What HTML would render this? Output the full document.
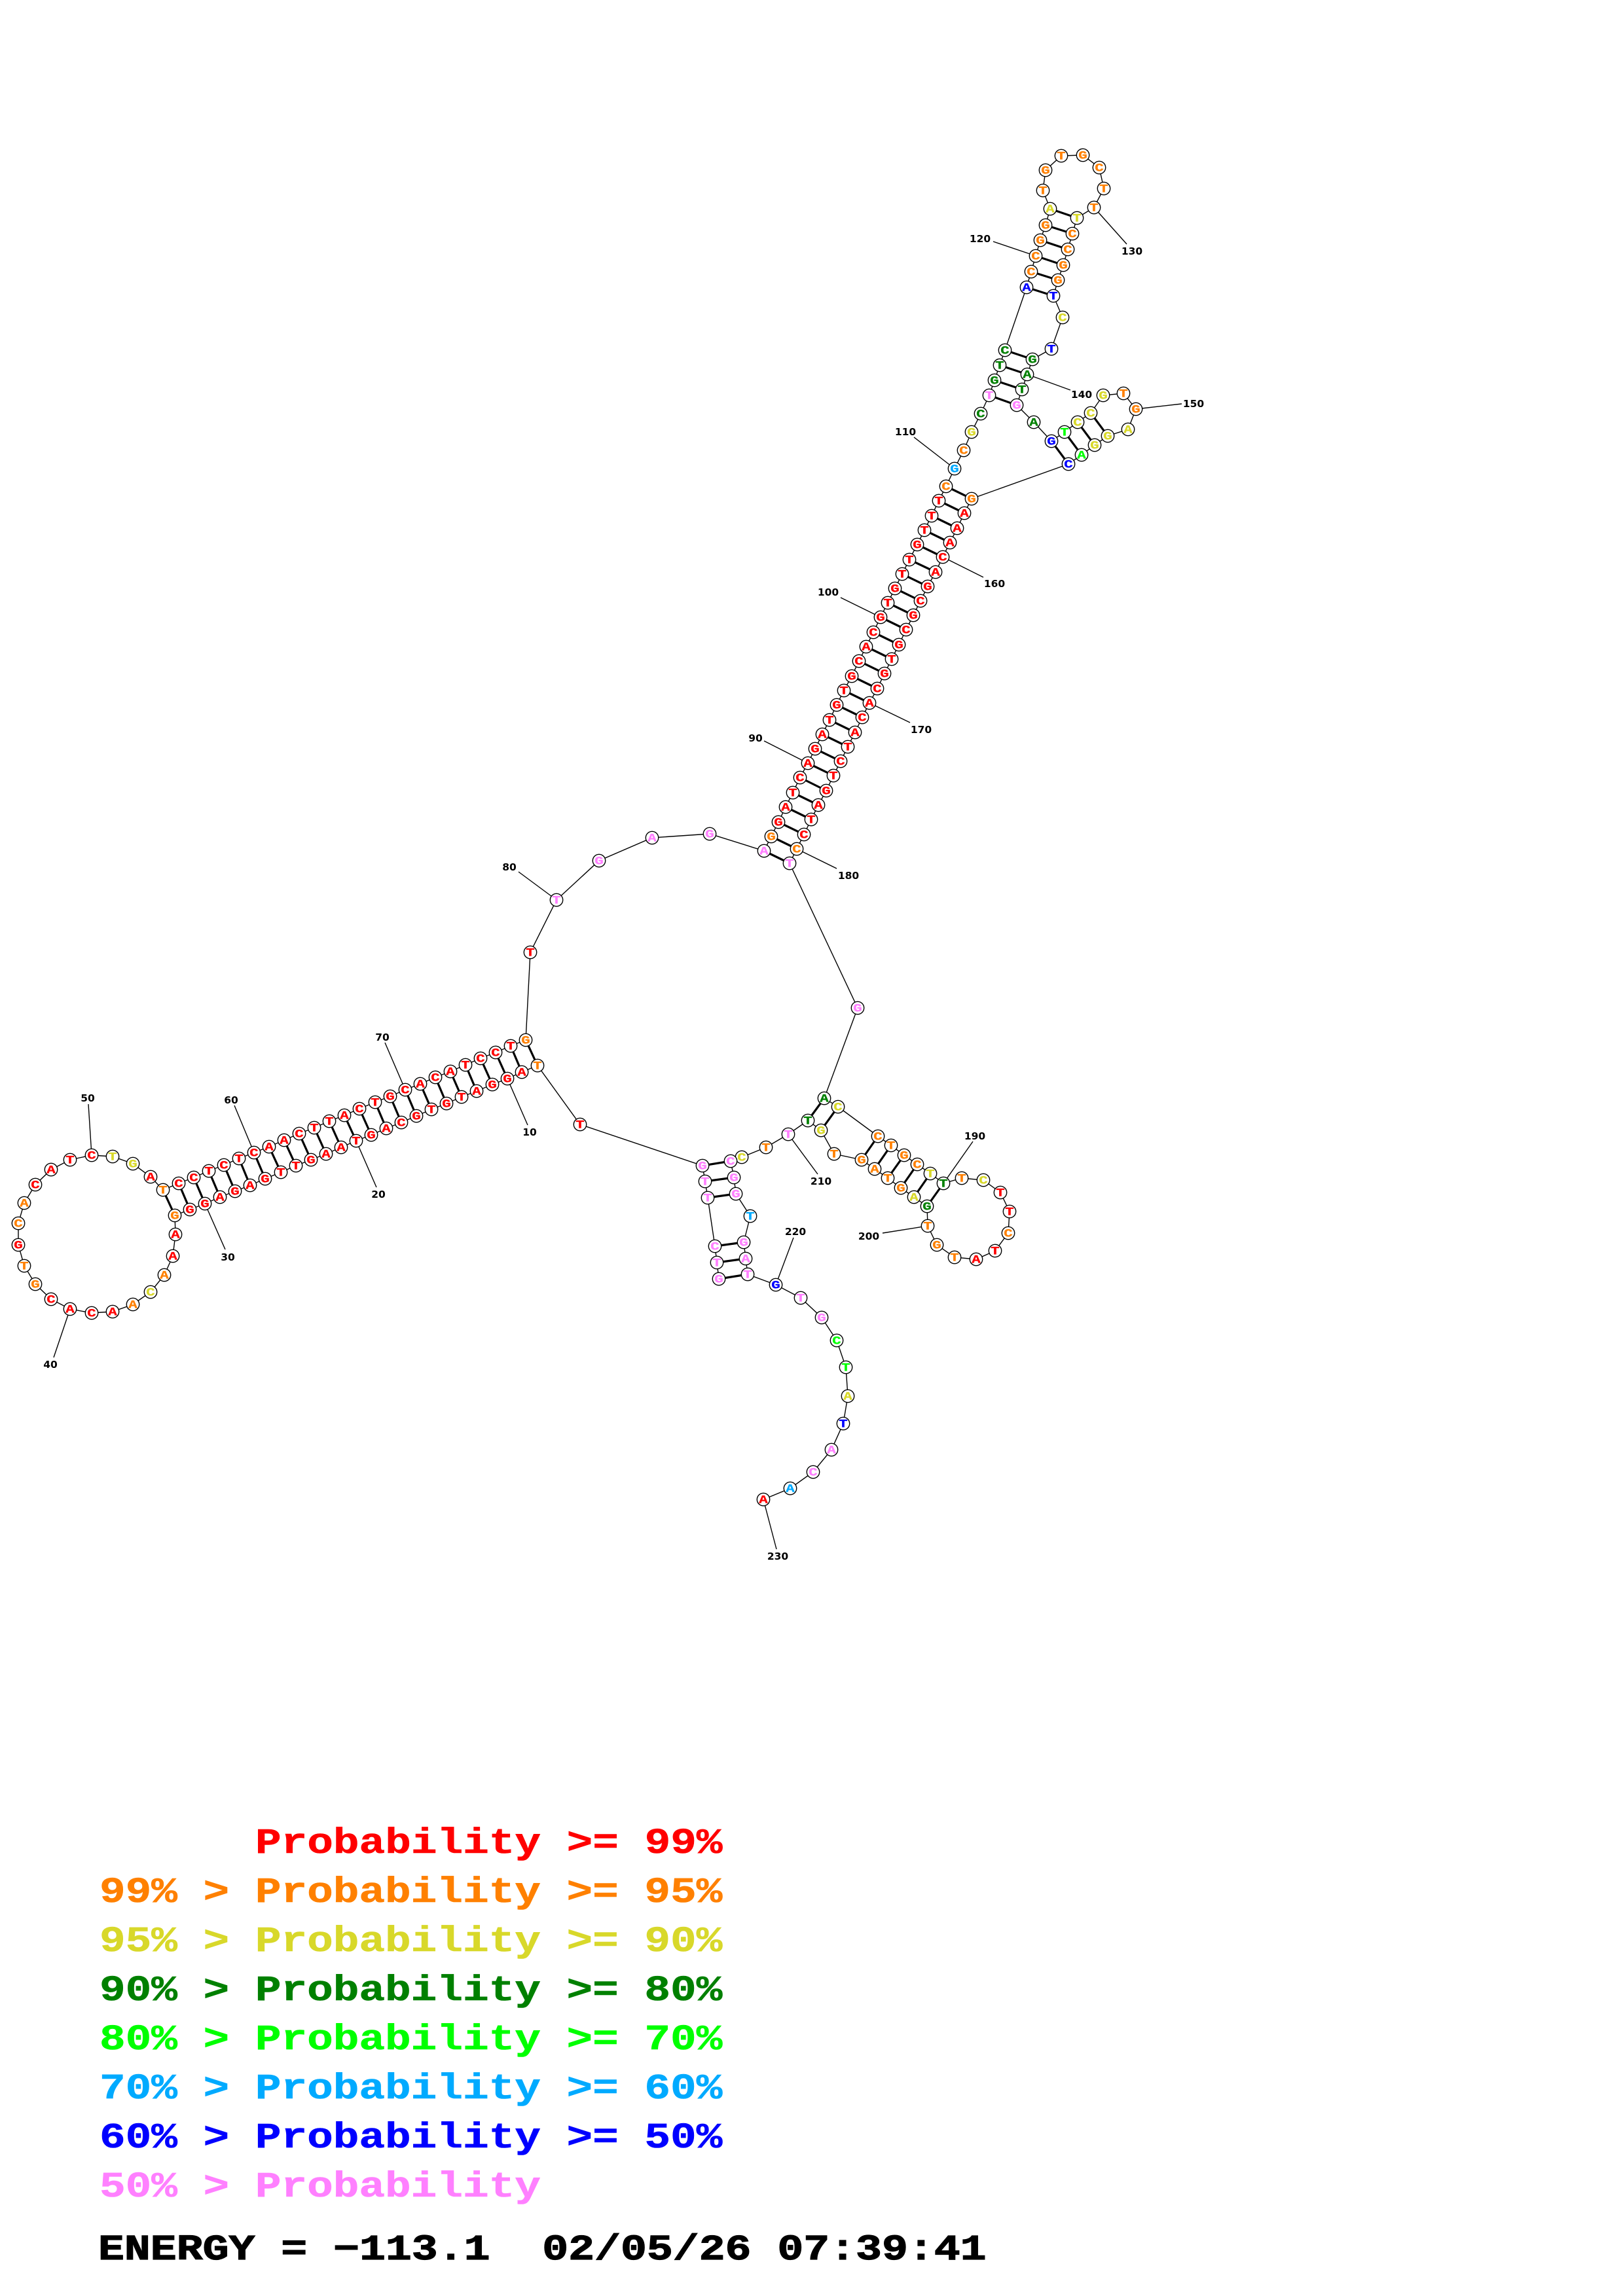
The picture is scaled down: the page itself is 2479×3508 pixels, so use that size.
<!DOCTYPE html>
<html><head><meta charset="utf-8"><style>
html,body{margin:0;padding:0;background:#fff}
svg{display:block}
.n circle{fill:#fff;stroke:#000;stroke-width:1.4}
.n text{font:bold 17.5px "Liberation Mono",monospace;text-anchor:middle;stroke-width:.3;transform:translate(0,5.7px) scale(1.28,1)}
.r{fill:#f00;stroke:#f00}.o{fill:#ff8000;stroke:#ff8000}.y{fill:#d8d82a;stroke:#d8d82a}.d{fill:#008000;stroke:#008000}.g{fill:#0f0;stroke:#0f0}.s{fill:#00aaff;stroke:#00aaff}.b{fill:#00f;stroke:#00f}.p{fill:#ff80ff;stroke:#ff80ff}
.l text{font:bold 54.6px "Liberation Mono",monospace;stroke-width:.6}
.t{font:bold 15.5px "DejaVu Sans",sans-serif;text-anchor:middle;fill:#000}
</style></head><body>
<svg xmlns="http://www.w3.org/2000/svg" width="2479" height="3508" viewBox="0 0 2479 3508">
<rect width="2479" height="3508" fill="#fff"/>
<polyline fill="none" stroke="#000" stroke-width="1.4" points="1098,1954 1095,1929 1092,1904 1081,1830 1077,1805 1073,1781 886,1718 821,1628 797,1638 775,1648 752,1657 728,1667 705,1676 682,1686 659,1695 636,1705 613,1715 590,1724 567,1734 544,1743 521,1753 498,1763 475,1772 452,1781 429,1791 405,1801 382,1811 359,1820 336,1829 313,1839 290,1848 267,1857 268,1886 264,1919 251,1948 230,1974 203,1993 172,2004 140,2006 107,2000 78,1985 54,1962 37,1934 28,1902 28,1869 37,1838 54,1810 78,1787 107,1772 140,1765 172,1767 203,1778 230,1798 249,1818 273,1808 296,1799 319,1789 342,1780 365,1770 388,1761 411,1752 434,1742 457,1732 480,1723 503,1713 526,1704 549,1694 573,1684 596,1675 619,1665 642,1656 665,1646 688,1637 711,1627 734,1617 757,1608 780,1598 803,1589 810,1455 850,1375 915,1315 996,1280 1084,1274 1167,1300 1178,1278 1189,1256 1200,1233 1211,1211 1222,1188 1234,1166 1245,1144 1256,1122 1267,1100 1278,1077 1289,1055 1301,1033 1312,1010 1323,988 1334,966 1345,943 1356,921 1367,899 1378,877 1389,855 1401,832 1412,810 1423,788 1434,765 1445,743 1458,716 1472,688 1484,660 1498,632 1511,604 1519,581 1527,558 1535,535 1568,439 1575,415 1582,391 1589,367 1597,344 1604,319 1593,291 1597,260 1621,238 1654,237 1679,256 1686,288 1671,317 1645,333 1638,357 1631,381 1624,405 1616,428 1609,452 1623,485 1606,533 1577,549 1569,572 1561,595 1553,619 1579,645 1606,674 1626,660 1646,645 1666,631 1685,604 1716,601 1735,625 1723,656 1692,666 1672,680 1652,695 1632,709 1484,762 1473,784 1462,807 1451,829 1440,851 1429,874 1417,896 1406,918 1395,940 1384,962 1373,985 1362,1007 1351,1029 1340,1052 1328,1074 1317,1096 1306,1119 1295,1141 1284,1163 1273,1185 1262,1208 1250,1230 1239,1252 1228,1275 1217,1297 1206,1319 1310,1540 1259,1678 1280,1691 1341,1736 1361,1750 1381,1765 1401,1779 1421,1793 1441,1808 1469,1800 1502,1803 1528,1822 1542,1851 1540,1884 1520,1911 1491,1924 1458,1921 1431,1902 1417,1873 1416,1843 1396,1829 1376,1815 1356,1800 1336,1786 1316,1772 1274,1763 1254,1727 1234,1712 1204,1733 1170,1753 1133,1768 1116,1774 1121,1799 1124,1824 1146,1858 1136,1898 1139,1923 1142,1947 1185,1963 1223,1983 1255,2013 1278,2048 1292,2089 1295,2133 1288,2175 1270,2215 1242,2249 1207,2274 1166,2291"/>
<path fill="none" stroke="#000" stroke-width="3.2" d="M1098 1954L1142 1947M1095 1929L1139 1923M1092 1904L1136 1898M1081 1830L1124 1824M1077 1805L1121 1799M1073 1781L1116 1774M821 1628L803 1589M797 1638L780 1598M775 1648L757 1608M752 1657L734 1617M728 1667L711 1627M705 1676L688 1637M682 1686L665 1646M659 1695L642 1656M636 1705L619 1665M613 1715L596 1675M590 1724L573 1684M567 1734L549 1694M544 1743L526 1704M521 1753L503 1713M498 1763L480 1723M475 1772L457 1732M452 1781L434 1742M429 1791L411 1752M405 1801L388 1761M382 1811L365 1770M359 1820L342 1780M336 1829L319 1789M313 1839L296 1799M290 1848L273 1808M267 1857L249 1818M1167 1300L1206 1319M1178 1278L1217 1297M1189 1256L1228 1275M1200 1233L1239 1252M1211 1211L1250 1230M1222 1188L1262 1208M1234 1166L1273 1185M1245 1144L1284 1163M1256 1122L1295 1141M1267 1100L1306 1119M1278 1077L1317 1096M1289 1055L1328 1074M1301 1033L1340 1052M1312 1010L1351 1029M1323 988L1362 1007M1334 966L1373 985M1345 943L1384 962M1356 921L1395 940M1367 899L1406 918M1378 877L1417 896M1389 855L1429 874M1401 832L1440 851M1412 810L1451 829M1423 788L1462 807M1434 765L1473 784M1445 743L1484 762M1511 604L1553 619M1519 581L1561 595M1527 558L1569 572M1535 535L1577 549M1568 439L1609 452M1575 415L1616 428M1582 391L1624 405M1589 367L1631 381M1597 344L1638 357M1604 319L1645 333M1606 674L1632 709M1626 660L1652 695M1646 645L1672 680M1666 631L1692 666M1259 1678L1234 1712M1280 1691L1254 1727M1341 1736L1316 1772M1361 1750L1336 1786M1381 1765L1356 1800M1401 1779L1376 1815M1421 1793L1396 1829M1441 1808L1416 1843"/>
<path fill="none" stroke="#000" stroke-width="1.4" d="M775 1648L806 1719M544 1743L575 1814M313 1839L344 1909M107 2000L82 2074M140 1765L135 1687M388 1761L358 1689M619 1665L588 1593M850 1375L792 1332M1234 1166L1167 1132M1345 943L1284 913M1458 716L1396 668M1582 391L1517 369M1671 317L1721 373M1569 572L1635 596M1735 625L1805 617M1440 851L1502 882M1328 1074L1390 1104M1217 1297L1278 1327M1441 1808L1486 1744M1417 1873L1348 1884M1204 1733L1249 1794M1185 1963L1212 1891M1166 2291L1186 2367"/>
<g class="n">
<g class="p" transform="translate(1098 1954)"><circle r="9.7"/><text>G</text></g>
<g class="p" transform="translate(1095 1929)"><circle r="9.7"/><text>T</text></g>
<g class="p" transform="translate(1092 1904)"><circle r="9.7"/><text>C</text></g>
<g class="p" transform="translate(1081 1830)"><circle r="9.7"/><text>T</text></g>
<g class="p" transform="translate(1077 1805)"><circle r="9.7"/><text>T</text></g>
<g class="p" transform="translate(1073 1781)"><circle r="9.7"/><text>G</text></g>
<g class="r" transform="translate(886 1718)"><circle r="9.7"/><text>T</text></g>
<g class="o" transform="translate(821 1628)"><circle r="9.7"/><text>T</text></g>
<g class="r" transform="translate(797 1638)"><circle r="9.7"/><text>A</text></g>
<g class="r" transform="translate(775 1648)"><circle r="9.7"/><text>G</text></g>
<g class="r" transform="translate(752 1657)"><circle r="9.7"/><text>G</text></g>
<g class="r" transform="translate(728 1667)"><circle r="9.7"/><text>A</text></g>
<g class="r" transform="translate(705 1676)"><circle r="9.7"/><text>T</text></g>
<g class="r" transform="translate(682 1686)"><circle r="9.7"/><text>G</text></g>
<g class="r" transform="translate(659 1695)"><circle r="9.7"/><text>T</text></g>
<g class="r" transform="translate(636 1705)"><circle r="9.7"/><text>G</text></g>
<g class="r" transform="translate(613 1715)"><circle r="9.7"/><text>C</text></g>
<g class="r" transform="translate(590 1724)"><circle r="9.7"/><text>A</text></g>
<g class="r" transform="translate(567 1734)"><circle r="9.7"/><text>G</text></g>
<g class="r" transform="translate(544 1743)"><circle r="9.7"/><text>T</text></g>
<g class="r" transform="translate(521 1753)"><circle r="9.7"/><text>A</text></g>
<g class="r" transform="translate(498 1763)"><circle r="9.7"/><text>A</text></g>
<g class="r" transform="translate(475 1772)"><circle r="9.7"/><text>G</text></g>
<g class="r" transform="translate(452 1781)"><circle r="9.7"/><text>T</text></g>
<g class="r" transform="translate(429 1791)"><circle r="9.7"/><text>T</text></g>
<g class="r" transform="translate(405 1801)"><circle r="9.7"/><text>G</text></g>
<g class="r" transform="translate(382 1811)"><circle r="9.7"/><text>A</text></g>
<g class="r" transform="translate(359 1820)"><circle r="9.7"/><text>G</text></g>
<g class="r" transform="translate(336 1829)"><circle r="9.7"/><text>A</text></g>
<g class="r" transform="translate(313 1839)"><circle r="9.7"/><text>G</text></g>
<g class="r" transform="translate(290 1848)"><circle r="9.7"/><text>G</text></g>
<g class="o" transform="translate(267 1857)"><circle r="9.7"/><text>G</text></g>
<g class="r" transform="translate(268 1886)"><circle r="9.7"/><text>A</text></g>
<g class="r" transform="translate(264 1919)"><circle r="9.7"/><text>A</text></g>
<g class="o" transform="translate(251 1948)"><circle r="9.7"/><text>A</text></g>
<g class="y" transform="translate(230 1974)"><circle r="9.7"/><text>C</text></g>
<g class="o" transform="translate(203 1993)"><circle r="9.7"/><text>A</text></g>
<g class="r" transform="translate(172 2004)"><circle r="9.7"/><text>A</text></g>
<g class="r" transform="translate(140 2006)"><circle r="9.7"/><text>C</text></g>
<g class="r" transform="translate(107 2000)"><circle r="9.7"/><text>A</text></g>
<g class="r" transform="translate(78 1985)"><circle r="9.7"/><text>C</text></g>
<g class="o" transform="translate(54 1962)"><circle r="9.7"/><text>G</text></g>
<g class="o" transform="translate(37 1934)"><circle r="9.7"/><text>T</text></g>
<g class="r" transform="translate(28 1902)"><circle r="9.7"/><text>G</text></g>
<g class="o" transform="translate(28 1869)"><circle r="9.7"/><text>C</text></g>
<g class="o" transform="translate(37 1838)"><circle r="9.7"/><text>A</text></g>
<g class="r" transform="translate(54 1810)"><circle r="9.7"/><text>C</text></g>
<g class="r" transform="translate(78 1787)"><circle r="9.7"/><text>A</text></g>
<g class="r" transform="translate(107 1772)"><circle r="9.7"/><text>T</text></g>
<g class="r" transform="translate(140 1765)"><circle r="9.7"/><text>C</text></g>
<g class="y" transform="translate(172 1767)"><circle r="9.7"/><text>T</text></g>
<g class="y" transform="translate(203 1778)"><circle r="9.7"/><text>G</text></g>
<g class="r" transform="translate(230 1798)"><circle r="9.7"/><text>A</text></g>
<g class="o" transform="translate(249 1818)"><circle r="9.7"/><text>T</text></g>
<g class="r" transform="translate(273 1808)"><circle r="9.7"/><text>C</text></g>
<g class="r" transform="translate(296 1799)"><circle r="9.7"/><text>C</text></g>
<g class="r" transform="translate(319 1789)"><circle r="9.7"/><text>T</text></g>
<g class="r" transform="translate(342 1780)"><circle r="9.7"/><text>C</text></g>
<g class="r" transform="translate(365 1770)"><circle r="9.7"/><text>T</text></g>
<g class="r" transform="translate(388 1761)"><circle r="9.7"/><text>C</text></g>
<g class="r" transform="translate(411 1752)"><circle r="9.7"/><text>A</text></g>
<g class="r" transform="translate(434 1742)"><circle r="9.7"/><text>A</text></g>
<g class="r" transform="translate(457 1732)"><circle r="9.7"/><text>C</text></g>
<g class="r" transform="translate(480 1723)"><circle r="9.7"/><text>T</text></g>
<g class="r" transform="translate(503 1713)"><circle r="9.7"/><text>T</text></g>
<g class="r" transform="translate(526 1704)"><circle r="9.7"/><text>A</text></g>
<g class="r" transform="translate(549 1694)"><circle r="9.7"/><text>C</text></g>
<g class="r" transform="translate(573 1684)"><circle r="9.7"/><text>T</text></g>
<g class="r" transform="translate(596 1675)"><circle r="9.7"/><text>G</text></g>
<g class="r" transform="translate(619 1665)"><circle r="9.7"/><text>C</text></g>
<g class="r" transform="translate(642 1656)"><circle r="9.7"/><text>A</text></g>
<g class="r" transform="translate(665 1646)"><circle r="9.7"/><text>C</text></g>
<g class="r" transform="translate(688 1637)"><circle r="9.7"/><text>A</text></g>
<g class="r" transform="translate(711 1627)"><circle r="9.7"/><text>T</text></g>
<g class="r" transform="translate(734 1617)"><circle r="9.7"/><text>C</text></g>
<g class="r" transform="translate(757 1608)"><circle r="9.7"/><text>C</text></g>
<g class="r" transform="translate(780 1598)"><circle r="9.7"/><text>T</text></g>
<g class="o" transform="translate(803 1589)"><circle r="9.7"/><text>G</text></g>
<g class="r" transform="translate(810 1455)"><circle r="9.7"/><text>T</text></g>
<g class="p" transform="translate(850 1375)"><circle r="9.7"/><text>T</text></g>
<g class="p" transform="translate(915 1315)"><circle r="9.7"/><text>G</text></g>
<g class="p" transform="translate(996 1280)"><circle r="9.7"/><text>A</text></g>
<g class="p" transform="translate(1084 1274)"><circle r="9.7"/><text>G</text></g>
<g class="p" transform="translate(1167 1300)"><circle r="9.7"/><text>A</text></g>
<g class="o" transform="translate(1178 1278)"><circle r="9.7"/><text>G</text></g>
<g class="r" transform="translate(1189 1256)"><circle r="9.7"/><text>G</text></g>
<g class="r" transform="translate(1200 1233)"><circle r="9.7"/><text>A</text></g>
<g class="r" transform="translate(1211 1211)"><circle r="9.7"/><text>T</text></g>
<g class="r" transform="translate(1222 1188)"><circle r="9.7"/><text>C</text></g>
<g class="r" transform="translate(1234 1166)"><circle r="9.7"/><text>A</text></g>
<g class="r" transform="translate(1245 1144)"><circle r="9.7"/><text>G</text></g>
<g class="r" transform="translate(1256 1122)"><circle r="9.7"/><text>A</text></g>
<g class="r" transform="translate(1267 1100)"><circle r="9.7"/><text>T</text></g>
<g class="r" transform="translate(1278 1077)"><circle r="9.7"/><text>G</text></g>
<g class="r" transform="translate(1289 1055)"><circle r="9.7"/><text>T</text></g>
<g class="r" transform="translate(1301 1033)"><circle r="9.7"/><text>G</text></g>
<g class="r" transform="translate(1312 1010)"><circle r="9.7"/><text>C</text></g>
<g class="r" transform="translate(1323 988)"><circle r="9.7"/><text>A</text></g>
<g class="r" transform="translate(1334 966)"><circle r="9.7"/><text>C</text></g>
<g class="r" transform="translate(1345 943)"><circle r="9.7"/><text>G</text></g>
<g class="r" transform="translate(1356 921)"><circle r="9.7"/><text>T</text></g>
<g class="r" transform="translate(1367 899)"><circle r="9.7"/><text>G</text></g>
<g class="r" transform="translate(1378 877)"><circle r="9.7"/><text>T</text></g>
<g class="r" transform="translate(1389 855)"><circle r="9.7"/><text>T</text></g>
<g class="r" transform="translate(1401 832)"><circle r="9.7"/><text>G</text></g>
<g class="r" transform="translate(1412 810)"><circle r="9.7"/><text>T</text></g>
<g class="r" transform="translate(1423 788)"><circle r="9.7"/><text>T</text></g>
<g class="r" transform="translate(1434 765)"><circle r="9.7"/><text>T</text></g>
<g class="o" transform="translate(1445 743)"><circle r="9.7"/><text>C</text></g>
<g class="s" transform="translate(1458 716)"><circle r="9.7"/><text>G</text></g>
<g class="o" transform="translate(1472 688)"><circle r="9.7"/><text>C</text></g>
<g class="y" transform="translate(1484 660)"><circle r="9.7"/><text>G</text></g>
<g class="d" transform="translate(1498 632)"><circle r="9.7"/><text>C</text></g>
<g class="p" transform="translate(1511 604)"><circle r="9.7"/><text>T</text></g>
<g class="d" transform="translate(1519 581)"><circle r="9.7"/><text>G</text></g>
<g class="d" transform="translate(1527 558)"><circle r="9.7"/><text>T</text></g>
<g class="d" transform="translate(1535 535)"><circle r="9.7"/><text>C</text></g>
<g class="b" transform="translate(1568 439)"><circle r="9.7"/><text>A</text></g>
<g class="o" transform="translate(1575 415)"><circle r="9.7"/><text>C</text></g>
<g class="o" transform="translate(1582 391)"><circle r="9.7"/><text>C</text></g>
<g class="o" transform="translate(1589 367)"><circle r="9.7"/><text>G</text></g>
<g class="o" transform="translate(1597 344)"><circle r="9.7"/><text>G</text></g>
<g class="y" transform="translate(1604 319)"><circle r="9.7"/><text>A</text></g>
<g class="o" transform="translate(1593 291)"><circle r="9.7"/><text>T</text></g>
<g class="o" transform="translate(1597 260)"><circle r="9.7"/><text>G</text></g>
<g class="o" transform="translate(1621 238)"><circle r="9.7"/><text>T</text></g>
<g class="o" transform="translate(1654 237)"><circle r="9.7"/><text>G</text></g>
<g class="o" transform="translate(1679 256)"><circle r="9.7"/><text>C</text></g>
<g class="o" transform="translate(1686 288)"><circle r="9.7"/><text>T</text></g>
<g class="o" transform="translate(1671 317)"><circle r="9.7"/><text>T</text></g>
<g class="y" transform="translate(1645 333)"><circle r="9.7"/><text>T</text></g>
<g class="o" transform="translate(1638 357)"><circle r="9.7"/><text>C</text></g>
<g class="o" transform="translate(1631 381)"><circle r="9.7"/><text>C</text></g>
<g class="o" transform="translate(1624 405)"><circle r="9.7"/><text>G</text></g>
<g class="o" transform="translate(1616 428)"><circle r="9.7"/><text>G</text></g>
<g class="b" transform="translate(1609 452)"><circle r="9.7"/><text>T</text></g>
<g class="y" transform="translate(1623 485)"><circle r="9.7"/><text>C</text></g>
<g class="b" transform="translate(1606 533)"><circle r="9.7"/><text>T</text></g>
<g class="d" transform="translate(1577 549)"><circle r="9.7"/><text>G</text></g>
<g class="d" transform="translate(1569 572)"><circle r="9.7"/><text>A</text></g>
<g class="d" transform="translate(1561 595)"><circle r="9.7"/><text>T</text></g>
<g class="p" transform="translate(1553 619)"><circle r="9.7"/><text>G</text></g>
<g class="d" transform="translate(1579 645)"><circle r="9.7"/><text>A</text></g>
<g class="b" transform="translate(1606 674)"><circle r="9.7"/><text>G</text></g>
<g class="g" transform="translate(1626 660)"><circle r="9.7"/><text>T</text></g>
<g class="y" transform="translate(1646 645)"><circle r="9.7"/><text>C</text></g>
<g class="y" transform="translate(1666 631)"><circle r="9.7"/><text>C</text></g>
<g class="y" transform="translate(1685 604)"><circle r="9.7"/><text>G</text></g>
<g class="o" transform="translate(1716 601)"><circle r="9.7"/><text>T</text></g>
<g class="o" transform="translate(1735 625)"><circle r="9.7"/><text>G</text></g>
<g class="y" transform="translate(1723 656)"><circle r="9.7"/><text>A</text></g>
<g class="y" transform="translate(1692 666)"><circle r="9.7"/><text>G</text></g>
<g class="y" transform="translate(1672 680)"><circle r="9.7"/><text>G</text></g>
<g class="g" transform="translate(1652 695)"><circle r="9.7"/><text>A</text></g>
<g class="b" transform="translate(1632 709)"><circle r="9.7"/><text>C</text></g>
<g class="o" transform="translate(1484 762)"><circle r="9.7"/><text>G</text></g>
<g class="r" transform="translate(1473 784)"><circle r="9.7"/><text>A</text></g>
<g class="r" transform="translate(1462 807)"><circle r="9.7"/><text>A</text></g>
<g class="r" transform="translate(1451 829)"><circle r="9.7"/><text>A</text></g>
<g class="r" transform="translate(1440 851)"><circle r="9.7"/><text>C</text></g>
<g class="r" transform="translate(1429 874)"><circle r="9.7"/><text>A</text></g>
<g class="r" transform="translate(1417 896)"><circle r="9.7"/><text>G</text></g>
<g class="r" transform="translate(1406 918)"><circle r="9.7"/><text>C</text></g>
<g class="r" transform="translate(1395 940)"><circle r="9.7"/><text>G</text></g>
<g class="r" transform="translate(1384 962)"><circle r="9.7"/><text>C</text></g>
<g class="r" transform="translate(1373 985)"><circle r="9.7"/><text>G</text></g>
<g class="r" transform="translate(1362 1007)"><circle r="9.7"/><text>T</text></g>
<g class="r" transform="translate(1351 1029)"><circle r="9.7"/><text>G</text></g>
<g class="r" transform="translate(1340 1052)"><circle r="9.7"/><text>C</text></g>
<g class="r" transform="translate(1328 1074)"><circle r="9.7"/><text>A</text></g>
<g class="r" transform="translate(1317 1096)"><circle r="9.7"/><text>C</text></g>
<g class="r" transform="translate(1306 1119)"><circle r="9.7"/><text>A</text></g>
<g class="r" transform="translate(1295 1141)"><circle r="9.7"/><text>T</text></g>
<g class="r" transform="translate(1284 1163)"><circle r="9.7"/><text>C</text></g>
<g class="r" transform="translate(1273 1185)"><circle r="9.7"/><text>T</text></g>
<g class="r" transform="translate(1262 1208)"><circle r="9.7"/><text>G</text></g>
<g class="r" transform="translate(1250 1230)"><circle r="9.7"/><text>A</text></g>
<g class="r" transform="translate(1239 1252)"><circle r="9.7"/><text>T</text></g>
<g class="r" transform="translate(1228 1275)"><circle r="9.7"/><text>C</text></g>
<g class="o" transform="translate(1217 1297)"><circle r="9.7"/><text>C</text></g>
<g class="p" transform="translate(1206 1319)"><circle r="9.7"/><text>T</text></g>
<g class="p" transform="translate(1310 1540)"><circle r="9.7"/><text>G</text></g>
<g class="d" transform="translate(1259 1678)"><circle r="9.7"/><text>A</text></g>
<g class="y" transform="translate(1280 1691)"><circle r="9.7"/><text>C</text></g>
<g class="o" transform="translate(1341 1736)"><circle r="9.7"/><text>C</text></g>
<g class="o" transform="translate(1361 1750)"><circle r="9.7"/><text>T</text></g>
<g class="o" transform="translate(1381 1765)"><circle r="9.7"/><text>G</text></g>
<g class="o" transform="translate(1401 1779)"><circle r="9.7"/><text>C</text></g>
<g class="y" transform="translate(1421 1793)"><circle r="9.7"/><text>T</text></g>
<g class="d" transform="translate(1441 1808)"><circle r="9.7"/><text>T</text></g>
<g class="o" transform="translate(1469 1800)"><circle r="9.7"/><text>T</text></g>
<g class="y" transform="translate(1502 1803)"><circle r="9.7"/><text>C</text></g>
<g class="r" transform="translate(1528 1822)"><circle r="9.7"/><text>T</text></g>
<g class="r" transform="translate(1542 1851)"><circle r="9.7"/><text>T</text></g>
<g class="o" transform="translate(1540 1884)"><circle r="9.7"/><text>C</text></g>
<g class="r" transform="translate(1520 1911)"><circle r="9.7"/><text>T</text></g>
<g class="r" transform="translate(1491 1924)"><circle r="9.7"/><text>A</text></g>
<g class="o" transform="translate(1458 1921)"><circle r="9.7"/><text>T</text></g>
<g class="o" transform="translate(1431 1902)"><circle r="9.7"/><text>G</text></g>
<g class="o" transform="translate(1417 1873)"><circle r="9.7"/><text>T</text></g>
<g class="d" transform="translate(1416 1843)"><circle r="9.7"/><text>G</text></g>
<g class="y" transform="translate(1396 1829)"><circle r="9.7"/><text>A</text></g>
<g class="o" transform="translate(1376 1815)"><circle r="9.7"/><text>G</text></g>
<g class="o" transform="translate(1356 1800)"><circle r="9.7"/><text>T</text></g>
<g class="o" transform="translate(1336 1786)"><circle r="9.7"/><text>A</text></g>
<g class="o" transform="translate(1316 1772)"><circle r="9.7"/><text>G</text></g>
<g class="o" transform="translate(1274 1763)"><circle r="9.7"/><text>T</text></g>
<g class="y" transform="translate(1254 1727)"><circle r="9.7"/><text>G</text></g>
<g class="d" transform="translate(1234 1712)"><circle r="9.7"/><text>T</text></g>
<g class="p" transform="translate(1204 1733)"><circle r="9.7"/><text>T</text></g>
<g class="o" transform="translate(1170 1753)"><circle r="9.7"/><text>T</text></g>
<g class="y" transform="translate(1133 1768)"><circle r="9.7"/><text>C</text></g>
<g class="p" transform="translate(1116 1774)"><circle r="9.7"/><text>C</text></g>
<g class="p" transform="translate(1121 1799)"><circle r="9.7"/><text>G</text></g>
<g class="p" transform="translate(1124 1824)"><circle r="9.7"/><text>G</text></g>
<g class="s" transform="translate(1146 1858)"><circle r="9.7"/><text>T</text></g>
<g class="p" transform="translate(1136 1898)"><circle r="9.7"/><text>G</text></g>
<g class="p" transform="translate(1139 1923)"><circle r="9.7"/><text>A</text></g>
<g class="p" transform="translate(1142 1947)"><circle r="9.7"/><text>T</text></g>
<g class="b" transform="translate(1185 1963)"><circle r="9.7"/><text>G</text></g>
<g class="p" transform="translate(1223 1983)"><circle r="9.7"/><text>T</text></g>
<g class="p" transform="translate(1255 2013)"><circle r="9.7"/><text>G</text></g>
<g class="g" transform="translate(1278 2048)"><circle r="9.7"/><text>C</text></g>
<g class="g" transform="translate(1292 2089)"><circle r="9.7"/><text>T</text></g>
<g class="y" transform="translate(1295 2133)"><circle r="9.7"/><text>A</text></g>
<g class="b" transform="translate(1288 2175)"><circle r="9.7"/><text>T</text></g>
<g class="p" transform="translate(1270 2215)"><circle r="9.7"/><text>A</text></g>
<g class="p" transform="translate(1242 2249)"><circle r="9.7"/><text>C</text></g>
<g class="s" transform="translate(1207 2274)"><circle r="9.7"/><text>A</text></g>
<g class="r" transform="translate(1166 2291)"><circle r="9.7"/><text>A</text></g>
</g>
<g>
<text class="t" x="809" y="1735">10</text>
<text class="t" x="578" y="1830">20</text>
<text class="t" x="348" y="1926">30</text>
<text class="t" x="77" y="2090">40</text>
<text class="t" x="134" y="1683">50</text>
<text class="t" x="353" y="1686">60</text>
<text class="t" x="584" y="1590">70</text>
<text class="t" x="778" y="1330">80</text>
<text class="t" x="1154" y="1133">90</text>
<text class="t" x="1265" y="910">100</text>
<text class="t" x="1383" y="665">110</text>
<text class="t" x="1497" y="370">120</text>
<text class="t" x="1729" y="389">130</text>
<text class="t" x="1652" y="608">140</text>
<text class="t" x="1823" y="622">150</text>
<text class="t" x="1519" y="897">160</text>
<text class="t" x="1407" y="1120">170</text>
<text class="t" x="1296" y="1343">180</text>
<text class="t" x="1489" y="1741">190</text>
<text class="t" x="1327" y="1894">200</text>
<text class="t" x="1254" y="1810">210</text>
<text class="t" x="1215" y="1887">220</text>
<text class="t" x="1188" y="2383">230</text>
</g>
<g class="l">
<text class="r" transform="translate(390 2831) scale(1.21 1)">Probability &gt;= 99%</text>
<text class="o" transform="translate(152 2906) scale(1.21 1)">99% &gt; Probability &gt;= 95%</text>
<text class="y" transform="translate(152 2981) scale(1.21 1)">95% &gt; Probability &gt;= 90%</text>
<text class="d" transform="translate(152 3056) scale(1.21 1)">90% &gt; Probability &gt;= 80%</text>
<text class="g" transform="translate(152 3131) scale(1.21 1)">80% &gt; Probability &gt;= 70%</text>
<text class="s" transform="translate(152 3206) scale(1.21 1)">70% &gt; Probability &gt;= 60%</text>
<text class="b" transform="translate(152 3281) scale(1.21 1)">60% &gt; Probability &gt;= 50%</text>
<text class="p" transform="translate(152 3356) scale(1.21 1)">50% &gt; Probability</text>
<text fill="#000" style="stroke:#000;stroke-width:1.2" xml:space="preserve" transform="translate(150 3452) scale(1.218 1)">ENERGY = −113.1  02/05/26 07:39:41</text>
</g>
</svg>
</body></html>
